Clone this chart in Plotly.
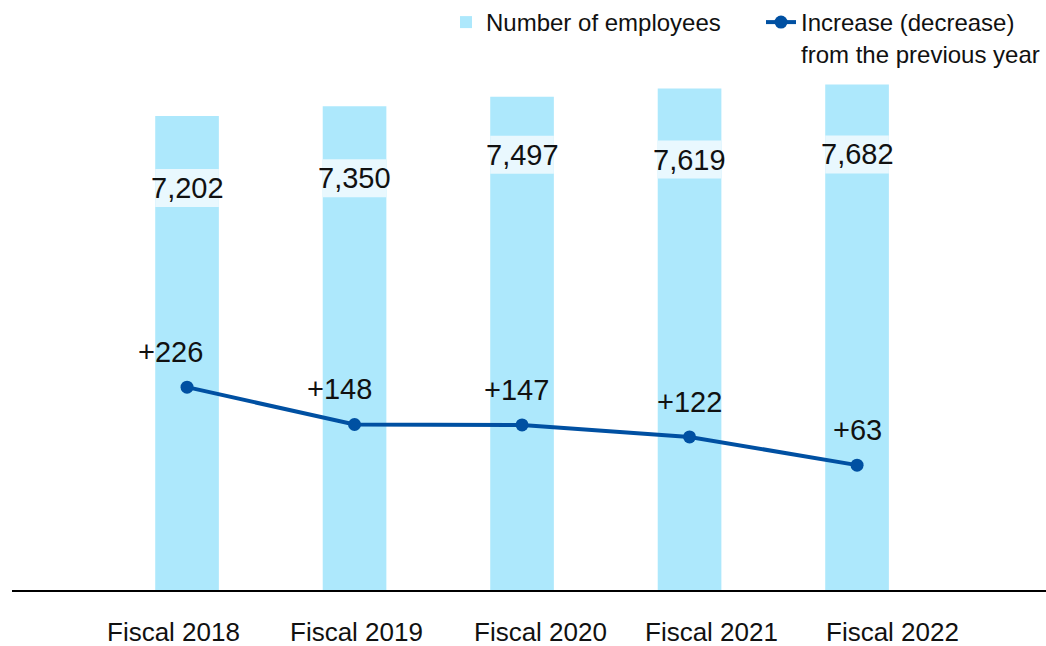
import plotly.graph_objects as go

categories = ["Fiscal 2018", "Fiscal 2019", "Fiscal 2020", "Fiscal 2021", "Fiscal 2022"]
employees = [7202, 7350, 7497, 7619, 7682]
change = [226, 148, 147, 122, 63]
employee_labels = ["7,202", "7,350", "7,497", "7,619", "7,682"]
change_labels = ["+226", "+148", "+147", "+122", "+63"]

# styling / label placement (pixels)
bar_label_offset = [-72, -72, -58, -71, -70]
line_label_xshift = [-17, -15, -6, 0, 0]
line_label_yshift = 35
category_label_xshift = [-14, 2, 18, 22, 35]
category_label_yshift = -41

BAR_COLOR = "#ADE8FC"
BAND_COLOR = "#E9F8FE"
LINE_COLOR = "#0050A2"
TEXT_COLOR = "#111111"
FONT = "Arial, Liberation Sans, sans-serif"

fig = go.Figure()
fig.add_trace(go.Bar(
    x=categories, y=employees, name="Number of employees",
    marker=dict(color=BAR_COLOR, line=dict(width=0)), width=0.38,
    yaxis="y", hoverinfo="skip",
))
fig.add_trace(go.Scatter(
    x=categories, y=change, name="Increase (decrease)<br>from the previous year",
    mode="lines+markers", line=dict(color=LINE_COLOR, width=4),
    marker=dict(color=LINE_COLOR, size=13), yaxis="y2", hoverinfo="skip",
))

shapes = []
annotations = []
for i, (v, lab, off) in enumerate(zip(employees, employee_labels, bar_label_offset)):
    shapes.append(dict(
        type="rect", xref="x", yref="y", x0=i - 0.19, x1=i + 0.19,
        ysizemode="pixel", yanchor=v, y0=off - 19, y1=off + 19,
        fillcolor=BAND_COLOR, line=dict(width=0), layer="above",
    ))
    annotations.append(dict(
        x=categories[i], y=v, xref="x", yref="y", text=lab, showarrow=False,
        yanchor="middle", yshift=off, font=dict(family=FONT, size=29, color=TEXT_COLOR),
    ))
for i, (v, lab, xs) in enumerate(zip(change, change_labels, line_label_xshift)):
    annotations.append(dict(
        x=categories[i], y=v, xref="x", yref="y2", text=lab, showarrow=False,
        yanchor="middle", yshift=line_label_yshift, xshift=xs,
        font=dict(family=FONT, size=29, color=TEXT_COLOR),
    ))
# category labels (hand-placed in the original)
for cat, xs in zip(categories, category_label_xshift):
    annotations.append(dict(
        x=cat, y=0, xref="x", yref="paper", text=cat, showarrow=False,
        yanchor="middle", yshift=category_label_yshift, xshift=xs,
        font=dict(family=FONT, size=26, color=TEXT_COLOR),
    ))

# baseline across the full width
shapes.append(dict(
    type="line", xref="paper", yref="paper", x0=0, x1=1, y0=0, y1=0,
    line=dict(color="black", width=2), layer="above",
))

fig.update_layout(
    width=1046, height=646,
    margin=dict(l=12, r=0, t=60, b=55, autoexpand=False),
    paper_bgcolor="white", plot_bgcolor="white",
    font=dict(family=FONT, size=24, color=TEXT_COLOR),
    showlegend=True,
    legend=dict(
        orientation="h", x=446 / 1046, xanchor="left", xref="container",
        y=1.0, yanchor="top", yref="container",
        font=dict(family=FONT, size=24, color=TEXT_COLOR),
        bgcolor="rgba(0,0,0,0)", traceorder="normal", valign="top",
        entrywidth=270, entrywidthmode="pixels", itemwidth=30,
    ),
    xaxis=dict(
        type="category", range=[-1.045, 5.128], showgrid=False, zeroline=False,
        showline=False, ticks="", showticklabels=False,
    ),
    yaxis=dict(range=[0, 8053], visible=False, showgrid=False),
    yaxis2=dict(range=[-200, 909.7], visible=False, showgrid=False,
                overlaying="y", side="right"),
    shapes=shapes,
    annotations=annotations,
)

fig.write_html(
    "out.html",
    config={"displayModeBar": False, "staticPlot": True},
    post_script="document.body.style.margin='0px';document.body.style.overflow='hidden';",
)
